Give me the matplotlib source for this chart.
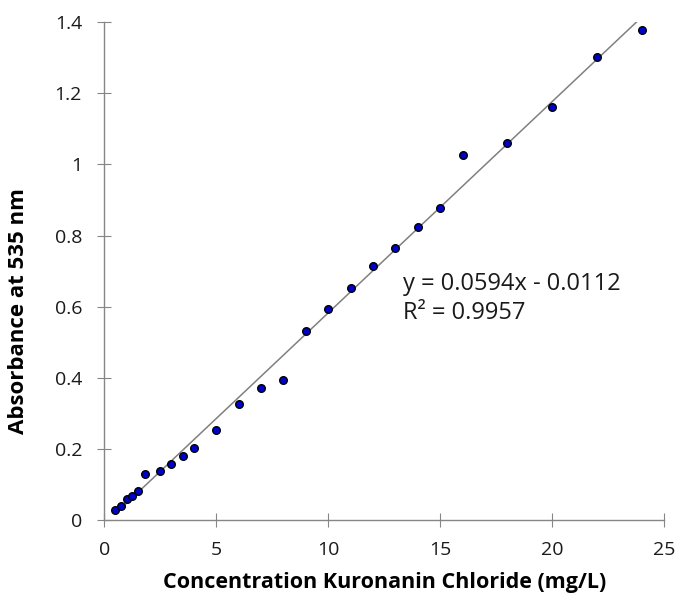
import numpy as np
import matplotlib
matplotlib.use('Agg')
import matplotlib.pyplot as plt

# concentration (mg/L) and absorbance at 535 nm
conc = [0.5, 0.75, 1, 1.25, 1.5, 1.8, 2.5, 3, 3.5, 4, 5, 6, 7, 8,
        9, 10, 11, 12, 13, 14, 15, 16, 18, 20, 22, 24]
absorb = [0.028, 0.041, 0.059, 0.068, 0.083, 0.130, 0.137, 0.157, 0.180, 0.203,
          0.254, 0.326, 0.372, 0.394, 0.532, 0.593, 0.653, 0.715, 0.766, 0.823,
          0.879, 1.027, 1.061, 1.162, 1.303, 1.378]

slope = 0.0594
intercept = -0.0112
r2 = 0.9957

plt.rcParams['font.family'] = ['Open Sans', 'DejaVu Sans']

fig = plt.figure(figsize=(6.77, 6), dpi=100)
ax = fig.add_axes([0.154, 0.133, 0.827, 0.83])

xfit = np.array([min(conc), max(conc)])
ax.plot(xfit, slope * xfit + intercept, color='#808080', lw=1.1, zorder=2)
ax.scatter(conc, absorb, s=30, color='#0000cc', edgecolors='black',
           linewidths=1.0, zorder=3)

ax.set_xlim(0, 25)
ax.set_ylim(0, 1.4)
ax.set_xticks([0, 5, 10, 15, 20, 25])
ax.set_yticks([0, 0.2, 0.4, 0.6, 0.8, 1.0, 1.2, 1.4])
ax.set_yticklabels(['0', '0.2', '0.4', '0.6', '0.8', '1', '1.2', '1.4'])

for s in ['top', 'right']:
    ax.spines[s].set_visible(False)
for s in ['left', 'bottom']:
    ax.spines[s].set_color('#868686')
    ax.spines[s].set_linewidth(1.0)
ax.tick_params(direction='inout', length=10, color='#868686',
               labelsize=14, labelcolor='#1a1a1a')
ax.tick_params(axis='y', pad=11)
ax.tick_params(axis='x', pad=10)

ax.set_xlabel('Concentration Kuronanin Chloride (mg/L)', fontsize=15.5,
              fontweight='bold', color='black', labelpad=9)
ax.set_ylabel('Absorbance at 535 nm', fontsize=16, fontweight='bold',
              color='black')
ax.yaxis.set_label_coords(-0.134, 0.42)

ax.text(13.35, 0.663, 'y = %.4fx - %.4f' % (slope, -intercept), fontsize=17,
        color='#1a1a1a', va='center')
ax.text(13.35, 0.582, 'R² = %.4f' % r2, fontsize=17, color='#1a1a1a', va='center')

plt.savefig('out.png', dpi=100)
